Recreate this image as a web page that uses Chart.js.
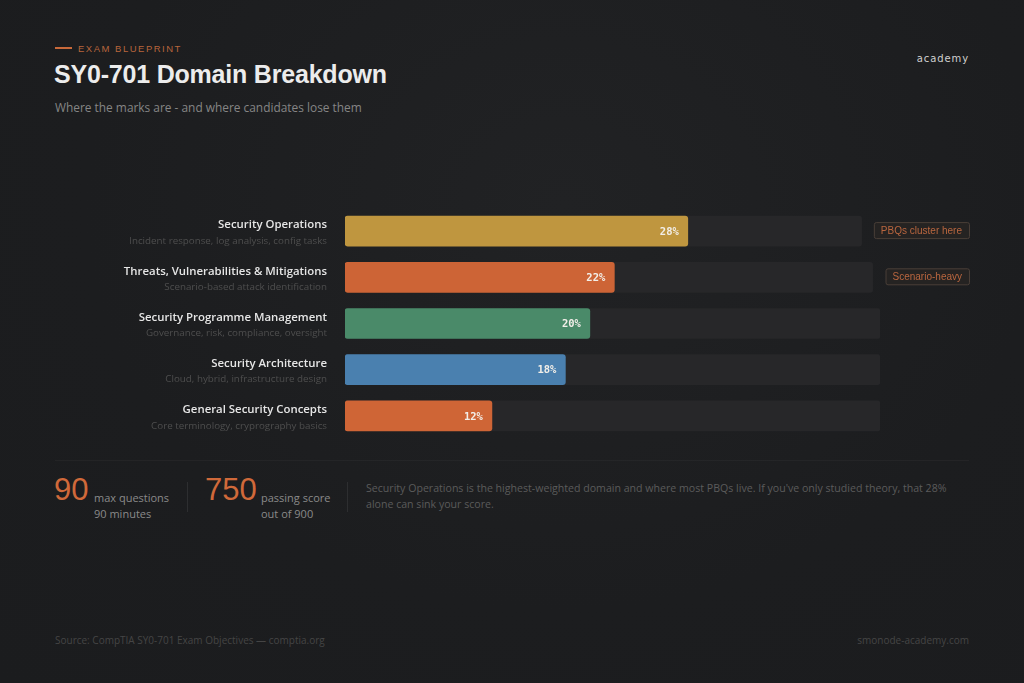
<!DOCTYPE html>
<html>
<head>
<meta charset="utf-8">
<script src="https://cdn.jsdelivr.net/npm/chart.js@4.4.1/dist/chart.umd.min.js"></script>
<style>
  html, body { margin: 0; padding: 0; }
  body {
    width: 1024px; height: 683px; overflow: hidden; position: relative;
    background: radial-gradient(ellipse at 55% 30%, #212224 0%, #1c1d1f 60%, #1b1c1e 100%);
    font-family: "Open Sans", "Noto Sans", sans-serif;
  }
  .eyebrow { position: absolute; left: 55px; top: 43px; font-size: 9.5px; letter-spacing: 1.5px; color: #b8653c; font-family: "Liberation Sans", Arial, sans-serif; }
  .eyebrow:before { content: ""; display: inline-block; width: 17px; height: 2px; background: #c8693a; vertical-align: middle; margin-right: 6px; margin-top: -2px; }
  h1 { position: absolute; left: 54px; top: 60px; margin: 0; font: bold 25px "Liberation Sans", Arial, sans-serif; color: #ececec; letter-spacing: -0.2px; }
  .sub { position: absolute; left: 55px; top: 99px; font-size: 11.9px; color: #858585; }
  .logo { position: absolute; right: 55px; top: 53px; font: 10px "DejaVu Sans", sans-serif; letter-spacing: 0.9px; color: #d0d0d0; }
  #wrap { position: absolute; left: 0; top: 200px; width: 1024px; height: 245px; }
  .rule { position: absolute; left: 55px; width: 914px; top: 460px; height: 1px; background: rgba(255,255,255,0.035); }
  .stat { position: absolute; top: 472px; }
  .stat .big { position: absolute; left: 0; top: 0; font: 31px "Liberation Sans", Arial, sans-serif; color: #d0693a; }
  .stat .txt { position: absolute; top: 18px; font-size: 11px; line-height: 16px; color: #8a8a8a; white-space: nowrap; }
  .vdiv { position: absolute; top: 482px; width: 1px; height: 30px; background: #2d2e30; }
  .note { position: absolute; left: 366px; top: 480px; width: 610px; font-size: 10.6px; line-height: 16px; color: #5b5b5b; }
  .foot { position: absolute; top: 633px; font-size: 10px; color: #454545; }
</style>
</head>
<body>
<div class="eyebrow">EXAM BLUEPRINT</div>
<h1>SY0-701 Domain Breakdown</h1>
<div class="sub">Where the marks are - and where candidates lose them</div>
<div class="logo">academy</div>

<div id="wrap"><canvas id="domainChart" width="1024" height="245"></canvas></div>

<div class="rule"></div>
<div class="stat" style="left:54px"><div class="big">90</div><div class="txt" style="left:40px">max questions<br>90 minutes</div></div>
<div class="vdiv" style="left:187px"></div>
<div class="stat" style="left:205px"><div class="big">750</div><div class="txt" style="left:56px">passing score<br>out of 900</div></div>
<div class="vdiv" style="left:347px"></div>
<div class="note">Security Operations is the highest-weighted domain and where most PBQs live. If you've only studied theory, that 28% alone can sink your score.</div>

<div class="foot" style="left:55px">Source: CompTIA SY0-701 Exam Objectives — comptia.org</div>
<div class="foot" style="right:55px">smonode-academy.com</div>

<script>
const domains = ['Security Operations', 'Threats, Vulnerabilities & Mitigations', 'Security Programme Management', 'Security Architecture', 'General Security Concepts'];
const details = ['Incident response, log analysis, config tasks', 'Scenario-based attack identification', 'Governance, risk, compliance, oversight', 'Cloud, hybrid, infrastructure design', 'Core terminology, cryprography basics'];
const weights = [28, 22, 20, 18, 12];
const trackLengths = [42.2, 43.1, 43.7, 43.7, 43.7];
const barColors = ['#bf963f', '#cd6436', '#4a8a69', '#4a80af', '#cf6536'];
const badges = ['PBQs cluster here', 'Scenario-heavy', '', '', ''];

// labels, value text and badges drawn against the y scale
const rowDecor = {
  id: 'rowDecor',
  afterDatasetsDraw(chart) {
    const ctx = chart.ctx;
    const yScale = chart.scales.y;
    const area = chart.chartArea;
    const bars = chart.getDatasetMeta(0).data;
    ctx.save();
    domains.forEach((name, i) => {
      const y = yScale.getPixelForValue(i);
      ctx.textAlign = 'right';
      ctx.textBaseline = 'middle';
      ctx.fillStyle = '#e6e6e6';
      ctx.font = '600 11.4px "Open Sans", sans-serif';
      ctx.fillText(name, area.left - 18, y - 6);
      ctx.fillStyle = '#4e4e4e';
      ctx.font = '9.8px "Open Sans", sans-serif';
      ctx.fillText(details[i], area.left - 18, y + 10);

      ctx.fillStyle = '#f2eee8';
      ctx.font = 'bold 10.5px "DejaVu Sans Mono", monospace';
      ctx.fillText(weights[i] + '%', bars[i].x - 9, y + 1);

      if (badges[i]) {
        ctx.font = '10px "Liberation Sans", Arial, sans-serif';
        const w = ctx.measureText(badges[i]).width + 14;
        const x1 = area.right + 89;
        ctx.fillStyle = '#252322';
        ctx.strokeStyle = '#4a3f38';
        ctx.lineWidth = 1;
        ctx.beginPath();
        ctx.roundRect(x1 - w + 0.5, y - 8.5, w, 16, 2);
        ctx.fill();
        ctx.stroke();
        ctx.fillStyle = '#b9663f';
        ctx.textAlign = 'center';
        ctx.fillText(badges[i], x1 - w / 2, y);
      }
    });
    ctx.restore();
  }
};

const chart = new Chart(document.getElementById('domainChart'), {
  type: 'bar',
  data: {
    labels: domains,
    datasets: [{
      label: 'Weight',
      data: weights,
      backgroundColor: barColors,
      borderRadius: 3,
      borderSkipped: false,
      barThickness: 30
    }, {
      label: 'Track',
      data: trackLengths,
      backgroundColor: '#272729',
      borderRadius: 3,
      borderSkipped: false,
      barThickness: 30
    }]
  },
  options: {
    indexAxis: 'y',
    responsive: false,
    animation: false,
    datasets: { bar: { grouped: false } },
    layout: { padding: { left: 345, right: 144, top: 8, bottom: 6 } },
    scales: {
      x: { display: false, min: 0, max: 43.7 },
      y: { display: false }
    },
    plugins: {
      legend: { display: false },
      tooltip: { enabled: false }
    }
  },
  plugins: [rowDecor]
});
</script>
</body>
</html>
